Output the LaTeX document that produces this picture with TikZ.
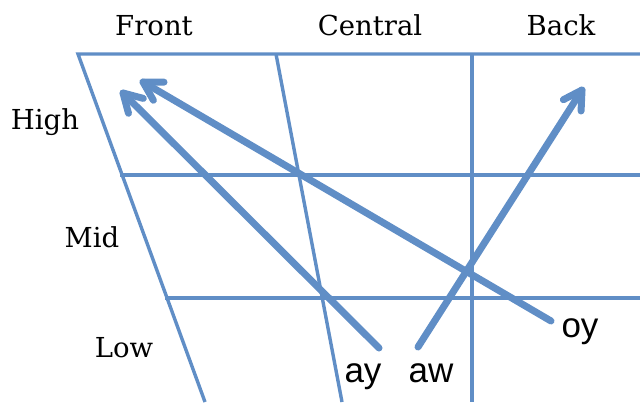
\documentclass[tikz,border=0pt]{standalone}
\usepackage{fontspec}
\setmainfont{DejaVu Serif}
\newfontfamily\labfont{Liberation Sans}
\usetikzlibrary{calc}
\definecolor{gridblue}{RGB}{96,142,198}
\tikzset{
  grid/.style={draw=gridblue, line width=3.4pt},
  glide/.style={draw=gridblue, line width=7pt, line cap=round, line join=round},
  head/.style={font=\fontsize{27.5}{30}\selectfont, anchor=base},
  vowel/.style={font=\labfont\fontsize{35}{37}\selectfont, anchor=base},
}
% arrow from #1 to #2 with a chevron head at #2
\newcommand{\glidearrow}[2]{%
  \draw[glide] (#1) -- (#2);
  \draw[glide] ($(#2)!21pt!-30:(#1)$) -- (#2) -- ($(#2)!21pt!30:(#1)$);
}
\begin{document}
\begin{tikzpicture}[x=1pt,y=-1pt]
\useasboundingbox (0,0) rectangle (640,402);
% grid
\coordinate (TL) at (78,54);
\coordinate (BL) at (205,402);
\coordinate (TC) at (276,54);
\coordinate (BC) at (342,402);
\coordinate (TB) at (472,54);
\coordinate (BB) at (472,402);
\coordinate (TR) at (640,54);
\coordinate (M1L) at (120,175);
\coordinate (M1R) at (640,175);
\coordinate (M2L) at (165,298);
\coordinate (M2R) at (640,298);
\draw[grid] (TR) -- (TL) -- (BL);
\draw[grid] (TC) -- (BC);
\draw[grid] (TB) -- (BB);
\draw[grid] (M1L) -- (M1R);
\draw[grid] (M2L) -- (M2R);
% headers
\node[head] (front) at (154,35) {Front};
\node[head] (central) at (370,35) {Central};
\node[head] (back) at (561,35) {Back};
\node[head] (high) at (45,129) {High};
\node[head] (mid) at (92,247) {Mid};
\node[head] (low) at (124,357) {Low};
% vowels
\node[vowel] (ay) at (363,382) {ay};
\node[vowel] (aw) at (431,382) {aw};
\node[vowel] (oy) at (580,337) {oy};
\coordinate (ayS) at (379,348);
\coordinate (ayE) at (123,93);
\coordinate (awS) at (418,347);
\coordinate (awE) at (582,90);
\coordinate (oyS) at (551,321);
\coordinate (oyE) at (143,82);
\glidearrow{ayS}{ayE}
\glidearrow{awS}{awE}
\glidearrow{oyS}{oyE}
\end{tikzpicture}
\end{document}
